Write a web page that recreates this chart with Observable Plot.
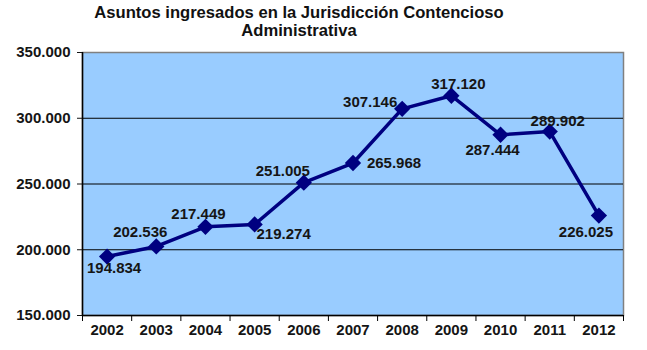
<!DOCTYPE html>
<html>
<head>
<meta charset="utf-8">
<script src="https://cdn.jsdelivr.net/npm/d3@7"></script>
<script src="https://cdn.jsdelivr.net/npm/@observablehq/plot@0.6"></script>
<style>
  html, body { margin: 0; padding: 0; background: #fff; }
  #wrap { width: 647px; height: 350px; position: relative; overflow: hidden; }
  #title { position: absolute; left: 0; top: 4px; width: 598px; text-align: center;
    font-family: "Liberation Sans", Arial, sans-serif; font-weight: bold; font-size: 16.6px;
    line-height: 18px; color: #111; }
  #chart { position: absolute; left: 0; top: 44px; }
</style>
</head>
<body>
<div id="wrap">
  <div id="title">Asuntos ingresados en la Jurisdicción Contencioso<br>Administrativa</div>
  <div id="chart"></div>
</div>
<script>
const years = [2002, 2003, 2004, 2005, 2006, 2007, 2008, 2009, 2010, 2011, 2012];
const values = [194834, 202536, 217449, 219274, 251005, 265968, 307146, 317120, 287444, 289902, 226025];
const labelDx = [7, -16, -7, 29, -21, 41, -32, 7, -8, 8, -13];
const labelDy = [12, -14, -13, 10, -11, 0, -7, -12, 15, -10, 17];
const yTicks = [150000, 200000, 250000, 300000, 350000];
const gridTicks = [200000, 250000, 300000];

const data = years.map((y, i) => ({year: y, value: values[i]}));
const boundaries = years.map(y => y - 0.5).concat([years[years.length - 1] + 0.5]);
const fmt = d3.formatLocale({decimal: ",", thousands: ".", grouping: [3], currency: ["", ""]}).format(",");

const diamond = {
  draw(context, size) {
    const r = Math.sqrt(size / 2);
    context.moveTo(0, -r);
    context.lineTo(r, 0);
    context.lineTo(0, r);
    context.lineTo(-r, 0);
    context.closePath();
  }
};

const navy = "#000080";
const textColor = "#151515";
const font = "Liberation Sans, Arial, sans-serif";

const marks = [
  Plot.frame({fill: "#99CCFF", stroke: "#808080", strokeWidth: 1.5}),
  Plot.ruleY(gridTicks, {stroke: "#000", strokeWidth: 1}),
  Plot.ruleX([boundaries[0]], {stroke: "#000", strokeWidth: 1.5}),
  Plot.ruleY([yTicks[0]], {stroke: "#000", strokeWidth: 1.5}),
  Plot.axisY({ticks: yTicks, tickSize: 5, tickPadding: 7, tickFormat: fmt, label: null,
    fontSize: 15, fontWeight: "bold", fill: textColor, color: textColor}),
  Plot.axisX({ticks: boundaries, tickSize: 6, tickFormat: () => "", label: null, stroke: "#000"}),
  Plot.axisX({ticks: years, tickSize: 0, tickPadding: 9, tickFormat: d => String(d), label: null,
    fontSize: 15, fontWeight: "bold", fill: textColor}),
  Plot.line(data, {x: "year", y: "value", stroke: navy, strokeWidth: 3.5}),
  Plot.dot(data, {x: "year", y: "value", symbol: diamond, r: 6.5, fill: navy, stroke: "none"}),
  ...data.map((d, i) => Plot.text([d], {x: "year", y: "value", text: dd => fmt(dd.value),
    dx: labelDx[i], dy: labelDy[i], fontSize: 15, fontWeight: "bold", fill: textColor}))
];

const chart = Plot.plot({
  width: 647,
  height: 306,
  marginTop: 8,
  marginBottom: 35,
  marginLeft: 82,
  marginRight: 24,
  style: {fontFamily: font, background: "transparent", overflow: "visible"},
  x: {type: "linear", domain: [boundaries[0], boundaries[boundaries.length - 1]], axis: null},
  y: {domain: [yTicks[0], yTicks[yTicks.length - 1]], axis: null},
  marks
});
document.getElementById("chart").appendChild(chart);
</script>
</body>
</html>
